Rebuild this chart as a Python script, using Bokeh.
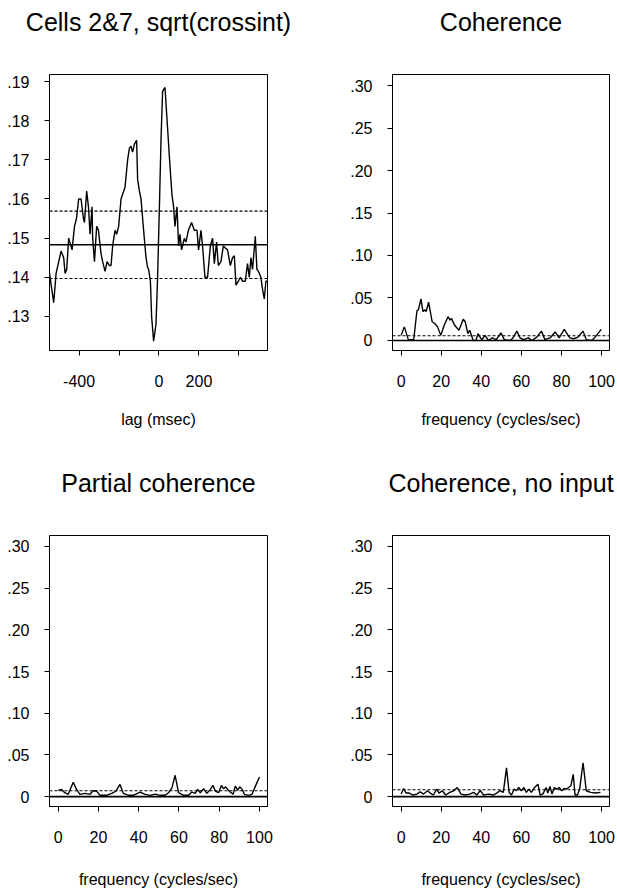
from bokeh.plotting import figure
from bokeh.layouts import column, row
from bokeh.models import FixedTicker, Span, Range1d
from bokeh.core.properties import value
from bokeh.embed import file_html
from bokeh.resources import INLINE

FONT = "Liberation Sans"

TITLES = ["Cells 2&7, sqrt(crossint)", "Coherence", "Partial coherence",
          "Coherence, no input"]

# ---- Panel 1: sqrt(crossint), lag in msec ----
LAG = [-548, -527, -515, -490, -477, -470, -462, -452, -435, -423, -413, -402, -390,
       -378, -373, -362, -353, -345, -335, -332, -323, -312, -303, -290, -282, -270,
       -260, -248, -240, -232, -220, -212, -202, -190, -170, -157, -148, -140, -132,
       -123, -112, -107, -98, -90, -77, -65, -57, -52, -43, -37, -27, -15, -7, 3, 10,
       18, 30, 43, 53, 65, 73, 80, 90, 98, 105, 113, 127, 135, 147, 163, 177, 190,
       198, 210, 218, 230, 243, 257, 268, 277, 288, 297, 310, 322, 332, 343, 357,
       368, 377, 385, 397, 407, 418, 432, 443, 452, 460, 468, 482, 490, 498, 510,
       518, 527, 535, 543]
CROSS = [0.1410, 0.1335, 0.1410, 0.1467, 0.1450, 0.1410, 0.1420, 0.1500, 0.1470,
         0.1530, 0.1550, 0.1600, 0.1600, 0.1550, 0.1540, 0.1620, 0.1580, 0.1510,
         0.1580, 0.1500, 0.1440, 0.1530, 0.1520, 0.1460, 0.1440, 0.1415, 0.1440,
         0.1430, 0.1430, 0.1480, 0.1520, 0.1510, 0.1530, 0.1600, 0.1630, 0.1700,
         0.1730, 0.1735, 0.1720, 0.1740, 0.1750, 0.1650, 0.1620, 0.1600, 0.1520,
         0.1450, 0.1425, 0.1420, 0.1390, 0.1300, 0.1237, 0.1280, 0.1400, 0.1600,
         0.1750, 0.1875, 0.1885, 0.1780, 0.1700, 0.1610, 0.1580, 0.1530, 0.1580,
         0.1480, 0.1510, 0.1470, 0.1500, 0.1490, 0.1520, 0.1540, 0.1520, 0.1520,
         0.1470, 0.1520, 0.1480, 0.1400, 0.1400, 0.1480, 0.1500, 0.1435, 0.1490,
         0.1430, 0.1440, 0.1480, 0.1475, 0.1470, 0.1430, 0.1450, 0.1455, 0.1380,
         0.1390, 0.1400, 0.1390, 0.1390, 0.1435, 0.1400, 0.1450, 0.1420, 0.1505,
         0.1420, 0.1415, 0.1400, 0.1370, 0.1345, 0.1390, 0.1390]
CROSS_MEAN = 0.1483
CROSS_BAND = [0.1397, 0.1569]
LAG_TICKS = [-400, -200, 0, 200, 400]
LAG_TICK_LABELS = ["-400", "", "0", "200", ""]
CROSS_TICKS = [0.13, 0.14, 0.15, 0.16, 0.17, 0.18, 0.19]
CROSS_TICK_LABELS = [".13", ".14", ".15", ".16", ".17", ".18", ".19"]

# ---- Panel 2: Coherence ----
COH_F = [0, 1.6, 3.6, 6.3, 7.9, 8.6, 9.9, 10.9, 11.9, 12.5, 13.7, 15.5, 16.8, 18.2,
         19.8, 21.5, 23.4, 24.4, 25.1, 26.7, 28.9, 31, 32, 33.3, 34.2, 36, 37.3,
         38.4, 39.6, 40.4, 41.8, 43.7, 45.4, 47.5, 49.8, 51.5, 54.5, 55.8, 57.8,
         59.4, 61, 63.5, 65.2, 67.7, 70, 71.8, 74.3, 76.9, 78.9, 81.4, 82.8, 84.2,
         86.1, 88.3, 90.8, 92.4, 94.9, 96.5, 98.2, 99.9]
COH = [0.006, 0.016, 0.001, 0.001, 0.035, 0.036, 0.049, 0.034, 0.036, 0.034, 0.045,
       0.022, 0.020, 0.016, 0.006, 0.018, 0.028, 0.024, 0.026, 0.018, 0.012, 0.025,
       0.022, 0.008, 0.012, 0.000, 0.000, 0.008, 0.003, 0.001, 0.006, 0.000, 0.003,
       0.001, 0.009, 0.001, 0.000, 0.003, 0.011, 0.003, 0.001, 0.003, 0.000, 0.004,
       0.011, 0.001, 0.003, 0.010, 0.003, 0.013, 0.008, 0.003, 0.002, 0.004, 0.011,
       0.001, 0.000, 0.003, 0.008, 0.013]
COH_LEVEL = 0.0055

# ---- Panel 3: Partial coherence ----
PCOH_F = [0, 1.7, 3.3, 5.0, 7.5, 9.1, 10.8, 13.3, 15.8, 17.4, 19.1, 20.8, 24.1, 26.6,
          28.7, 30.7, 32.4, 34.9, 37.4, 40.7, 43.2, 45.7, 48.2, 50.7, 53.2, 54.8,
          56.5, 58.1, 59.8, 62.3, 64.8, 66.4, 68.1, 69.3, 70.6, 72.3, 73.9, 75.6,
          76.9, 78.1, 79.7, 81.1, 82.2, 83.2, 84.2, 85.5, 86.9, 88.0, 89.2, 90.2,
          91.4, 92.5, 94.7, 96.3, 98.0, 100.0]
PCOH = [0.0075, 0.0087, 0.0047, 0.0028, 0.0173, 0.0087, 0.0028, 0.0039, 0.0028,
        0.0071, 0.0067, 0.0016, 0.0016, 0.0039, 0.0067, 0.0146, 0.0039, 0.0016,
        0.0016, 0.0055, 0.0028, 0.0016, 0.0031, 0.0016, 0.0016, 0.0047, 0.0106,
        0.0256, 0.0047, 0.0016, 0.0016, 0.0055, 0.0039, 0.0087, 0.0047, 0.0094,
        0.0039, 0.0087, 0.0134, 0.0067, 0.0047, 0.0134, 0.0094, 0.0118, 0.0087,
        0.0055, 0.0028, 0.0126, 0.0079, 0.0118, 0.0087, 0.0028, 0.0016, 0.0028,
        0.0126, 0.0236]
PCOH_LEVEL = 0.0071

# ---- Panel 4: Coherence, no input ----
NCOH_F = [0, 1.3, 2.5, 4.1, 5.8, 7.9, 9.5, 11.2, 13.2, 14.5, 16.1, 17.8, 18.9, 20.6,
          22.2, 24.3, 26.3, 28.0, 29.9, 32.1, 34.2, 36.2, 37.8, 39.5, 41.1, 43.6,
          46.1, 47.7, 49.3, 51.0, 52.6, 53.9, 55.1, 56.4, 57.6, 58.7, 60.0, 61.3,
          62.5, 63.7, 65.0, 66.6, 68.3, 69.4, 70.7, 72.4, 73.2, 74.3, 75.3, 76.5,
          77.6, 78.9, 80.1, 81.4, 82.6, 83.6, 84.7, 85.9, 86.8, 88.0, 89.1, 90.8,
          92.4, 94.6, 97.0, 99.5]
NCOH = [0.0031, 0.0098, 0.0043, 0.0043, 0.0020, 0.0031, 0.0059, 0.0031, 0.0071,
        0.0043, 0.0020, 0.0091, 0.0043, 0.0071, 0.0020, 0.0051, 0.0071, 0.0110,
        0.0031, 0.0020, 0.0031, 0.0051, 0.0020, 0.0075, 0.0020, 0.0031, 0.0020,
        0.0043, 0.0071, 0.0051, 0.0346, 0.0051, 0.0020, 0.0091, 0.0071, 0.0110,
        0.0071, 0.0110, 0.0051, 0.0091, 0.0051, 0.0110, 0.0150, 0.0020, 0.0031,
        0.0110, 0.0043, 0.0122, 0.0031, 0.0110, 0.0091, 0.0110, 0.0071, 0.0098,
        0.0091, 0.0110, 0.0130, 0.0268, 0.0020, 0.0020, 0.0091, 0.0406, 0.0071,
        0.0051, 0.0043, 0.0051]
NCOH_LEVEL = 0.0083

FREQ_TICKS = [0, 20, 40, 60, 80, 100]
FREQ_TICK_LABELS = ["0", "20", "40", "60", "80", "100"]
COH_TICKS = [0, 0.05, 0.10, 0.15, 0.20, 0.25, 0.30]
COH_TICK_LABELS = ["0", ".05", ".10", ".15", ".20", ".25", ".30"]

PAGE_W = 617
TITLE_H = 70         # height of each strip holding a row of panel titles
TITLE_BASELINE = 21  # title baseline, px from the top of its strip
# (width, left border, right border) of the left and right panel in a row
COLS = [(308, 49, 41), (309, 84, 8)]


def title_strip(texts):
    t = figure(width=PAGE_W, height=TITLE_H, output_backend="svg",
               toolbar_location=None, x_axis_location=None, y_axis_location=None,
               x_range=Range1d(0, PAGE_W), y_range=Range1d(0, TITLE_H),
               min_border=0, outline_line_color=None)
    t.grid.visible = False
    t.background_fill_color = "white"
    t.border_fill_color = "white"
    xs, x0 = [], 0
    for w, bl, br in COLS:
        xs.append(x0 + bl + (w - bl - br) / 2)
        x0 += w
    t.text(x=xs, y=[TITLE_H - TITLE_BASELINE] * len(xs), text=texts,
           text_font=value(FONT), text_font_size=value("25px"), text_color="black",
           text_align="center", text_baseline="alphabetic")
    return t


def make_panel(col, height, b_bottom, xr, yr, xticks, xlabels, yticks, ylabels,
               xlabel, label_standoff):
    width, b_left, b_right = COLS[col]
    p = figure(width=width, height=height - TITLE_H, output_backend="svg",
               toolbar_location=None, x_range=Range1d(*xr), y_range=Range1d(*yr),
               min_border_left=b_left, min_border_right=b_right,
               min_border_top=4, min_border_bottom=b_bottom)
    p.grid.visible = False
    p.outline_line_color = "black"
    p.outline_line_width = 1
    p.outline_line_alpha = 1
    p.background_fill_color = "white"
    p.border_fill_color = "white"
    for ax, ticks, labels in ((p.xaxis[0], xticks, xlabels), (p.yaxis[0], yticks, ylabels)):
        ax.ticker = FixedTicker(ticks=ticks)
        ax.major_label_overrides = {t: l for t, l in zip(ticks, labels)}
        ax.minor_tick_line_color = None
        ax.major_tick_out = 5
        ax.major_tick_in = 0
        ax.major_tick_line_color = "black"
        ax.axis_line_color = "black"
        ax.major_label_text_font = FONT
        ax.major_label_text_font_size = "16px"
        ax.major_label_text_color = "black"
    p.xaxis.major_label_standoff = 19
    p.yaxis.major_label_standoff = 15
    p.xaxis.axis_label = xlabel
    p.xaxis.axis_label_text_font = FONT
    p.xaxis.axis_label_text_font_size = "16px"
    p.xaxis.axis_label_text_font_style = "normal"
    p.xaxis.axis_label_text_color = "black"
    p.xaxis.axis_label_standoff = label_standoff
    return p


FREQ_RANGE = (-4.3, 104)
COH_RANGE = (-0.0118, 0.313)

p1 = make_panel(0, 461, 111, (-548, 543), (0.1213, 0.1918), LAG_TICKS, LAG_TICK_LABELS,
                CROSS_TICKS, CROSS_TICK_LABELS, "lag (msec)", 21)
p1.line(LAG, CROSS, line_color="black", line_width=1.4)
p1.add_layout(Span(location=CROSS_MEAN, dimension="width", line_color="black", line_width=1.5))
for lvl in CROSS_BAND:
    p1.add_layout(Span(location=lvl, dimension="width", line_color="black",
                       line_width=1.1, line_dash="3 2"))

p2 = make_panel(1, 461, 111, FREQ_RANGE, COH_RANGE, FREQ_TICKS, FREQ_TICK_LABELS,
                COH_TICKS, COH_TICK_LABELS, "frequency (cycles/sec)", 21)
p2.line(COH_F, COH, line_color="black", line_width=1.4)

p3 = make_panel(0, 429, 80, FREQ_RANGE, COH_RANGE, FREQ_TICKS, FREQ_TICK_LABELS,
                COH_TICKS, COH_TICK_LABELS, "frequency (cycles/sec)", 25)
p3.line(PCOH_F, PCOH, line_color="black", line_width=1.4)

p4 = make_panel(1, 429, 80, FREQ_RANGE, COH_RANGE, FREQ_TICKS, FREQ_TICK_LABELS,
                COH_TICKS, COH_TICK_LABELS, "frequency (cycles/sec)", 25)
p4.line(NCOH_F, NCOH, line_color="black", line_width=1.4)

for p, lvl in ((p2, COH_LEVEL), (p3, PCOH_LEVEL), (p4, NCOH_LEVEL)):
    p.add_layout(Span(location=0, dimension="width", line_color="black", line_width=1.6))
    p.add_layout(Span(location=lvl, dimension="width", line_color="black",
                      line_width=1.1, line_dash="3 2"))

layout = column(title_strip(TITLES[0:2]), row(p1, p2),
                title_strip(TITLES[2:4]), row(p3, p4))
open("out.html", "w").write(file_html(layout, INLINE))
